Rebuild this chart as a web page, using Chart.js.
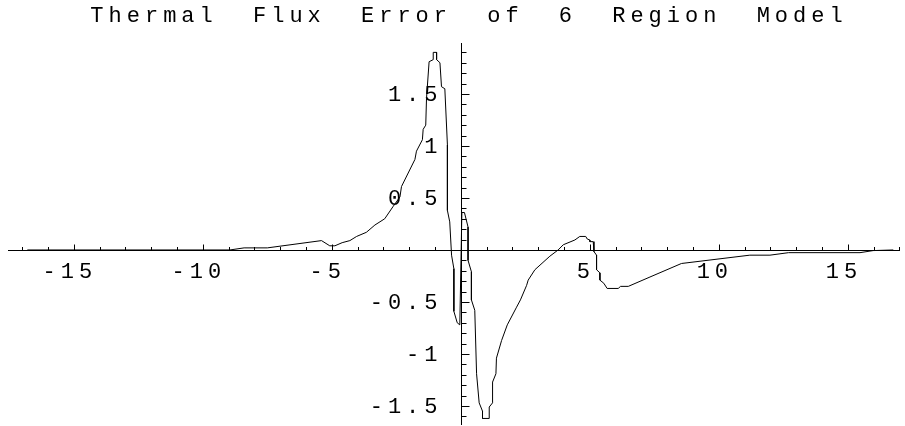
<!DOCTYPE html>
<html lang="en">
<head>
  <meta charset="UTF-8">
  <title>Thermal Flux Error of 6 Region Model</title>
  <script src="https://cdn.jsdelivr.net/npm/chart.js"></script>
  <style>
    html, body {
      margin: 0;
      padding: 0;
      background: #fff;
    }
    .chart-box {
      width: 905px;
      height: 426px;
    }
  </style>
</head>
<body>
  <div class="chart-box">
    <canvas id="fluxChart"></canvas>
  </div>
  <script>
    // curve values
    const xValues = [-16.8, -8.95, -8.4, -7.5, -5.4, -5.08, -4.88, -4.6, -4.3, -4.04, -3.66, -3.33, -2.95, -2.62,
      -2.36, -2.3, -1.78, -1.72, -1.49, -1.46, -1.36, -1.33, -1.23, -1.07, -1.07, -0.94, -0.94, -0.81, -0.75,
      -0.62, -0.52, -0.52, -0.43, -0.36, -0.27, -0.27, -0.14, -0.04, 0.04, 0.14, 0.28, 0.28, 0.41, 0.41, 0.54,
      0.61, 0.71, 0.84, 0.84, 1.1, 1.1, 1.23, 1.23, 1.36, 1.38, 1.58, 1.8, 2.16, 2.31, 2.55, 2.61, 2.87, 3.45,
      3.77, 3.97, 4.42, 4.61, 4.84, 4.9, 5.0, 5.0, 5.13, 5.16, 5.26, 5.26, 5.39, 5.39, 5.54, 5.67, 6.1, 6.19,
      6.49, 7.33, 8.55, 11.2, 11.98, 12.7, 15.47, 15.98, 16.76];
    const yValues = [0, 0, 0.02, 0.02, 0.09, 0.04, 0.04, 0.07, 0.09, 0.13, 0.17, 0.24, 0.3, 0.42,
      0.51, 0.61, 0.87, 0.95, 1.06, 1.16, 1.2, 1.46, 1.81, 1.83, 1.9, 1.9, 1.83, 1.8, 1.57,
      1.55, 1.01, 0.38, 0.27, -0.05, -0.18, -0.59, -0.7, -0.72, 0.36, 0.36, 0.22, -0.1, -0.21, -0.48, -0.58,
      -1.19, -1.47, -1.55, -1.62, -1.62, -1.51, -1.47, -1.27, -1.19, -1.04, -0.87, -0.72, -0.55, -0.48, -0.34, -0.29, -0.19, -0.06,
      0, 0.05, 0.096, 0.13, 0.13, 0.105, 0.096, 0.08, 0.08, -0.016, -0.05, -0.19, -0.22, -0.29, -0.32, -0.37, -0.37, -0.35,
      -0.35, -0.26, -0.13, -0.05, -0.05, -0.026, -0.026, -0.006, 0];

    const xTickLabels = [-15, -10, -5, 5, 10, 15];
    const yTickLabels = [-1.5, -1, -0.5, 0.5, 1, 1.5];
    const xRange = [-17.55, 17.02];
    const yRange = [-1.683, 1.99];
    const titleText = 'Thermal Flux Error of 6 Region Model';

    const points = xValues.map((x, i) => ({ x: x, y: yValues[i] }));
    const FONT = '22px "Liberation Mono", "DejaVu Sans Mono", monospace';

    // spaced-out courier look, like the old plot
    const spacingPlugin = {
      id: 'spacing',
      beforeDraw(chart) {
        chart.ctx.letterSpacing = '5px';
        chart.ctx.wordSpacing = '17px';
      },
      afterDraw(chart) {
        const ctx = chart.ctx;
        ctx.save();
        ctx.fillStyle = '#000';
        ctx.font = FONT;
        ctx.textAlign = 'center';
        ctx.textBaseline = 'middle';
        ctx.fillText(titleText, 469, 16);
        ctx.restore();
      }
    };

    // axes crossing at the origin, ticks and labels
    const crossAxes = {
      id: 'crossAxes',
      beforeDatasetsDraw(chart) {
        const ctx = chart.ctx;
        const xs = chart.scales.x, ys = chart.scales.y;
        const area = chart.chartArea;
        const x0 = Math.round(xs.getPixelForValue(0)) + 0.5;
        const y0 = Math.round(ys.getPixelForValue(0)) + 0.5;
        ctx.save();
        ctx.strokeStyle = '#000';
        ctx.lineWidth = 1;
        ctx.beginPath();
        ctx.moveTo(area.left, y0);
        ctx.lineTo(area.right, y0);
        ctx.moveTo(x0, area.top);
        ctx.lineTo(x0, area.bottom);
        // x ticks every 1, longer every 5
        for (let v = -17; v <= 17; v++) {
          if (v === 0) continue;
          const px = Math.round(xs.getPixelForValue(v)) + 0.5;
          const len = v % 5 === 0 ? 6 : 3.5;
          ctx.moveTo(px, y0);
          ctx.lineTo(px, y0 - len);
        }
        // y ticks every 0.1, longer every 0.5
        for (let k = -16; k <= 19; k++) {
          if (k === 0) continue;
          const py = Math.round(ys.getPixelForValue(k / 10)) + 0.5;
          const len = k % 5 === 0 ? 8 : 5;
          ctx.moveTo(x0, py);
          ctx.lineTo(x0 + len, py);
        }
        ctx.stroke();

        ctx.fillStyle = '#000';
        ctx.font = FONT;
        ctx.textBaseline = 'middle';
        ctx.textAlign = 'center';
        xTickLabels.forEach(v => {
          ctx.fillText(String(v), xs.getPixelForValue(v) - 4, y0 + 22);
        });
        ctx.textAlign = 'right';
        yTickLabels.forEach(v => {
          ctx.fillText(String(v), x0 - 19, ys.getPixelForValue(v) + 1);
        });
        ctx.restore();
      }
    };

    new Chart(document.getElementById('fluxChart').getContext('2d'), {
      type: 'scatter',
      data: {
        datasets: [{
          data: points,
          showLine: true,
          borderColor: '#000',
          borderWidth: 1,
          pointRadius: 0,
          tension: 0
        }]
      },
      options: {
        responsive: true,
        maintainAspectRatio: false,
        animation: false,
        layout: { padding: { left: 8, right: 5, top: 43, bottom: 1 } },
        scales: {
          x: { type: 'linear', min: xRange[0], max: xRange[1], display: false },
          y: { type: 'linear', min: yRange[0], max: yRange[1], display: false }
        },
        plugins: {
          legend: { display: false },
          tooltip: { enabled: false },
          title: { display: false }
        }
      },
      plugins: [spacingPlugin, crossAxes]
    });
  </script>
</body>
</html>
